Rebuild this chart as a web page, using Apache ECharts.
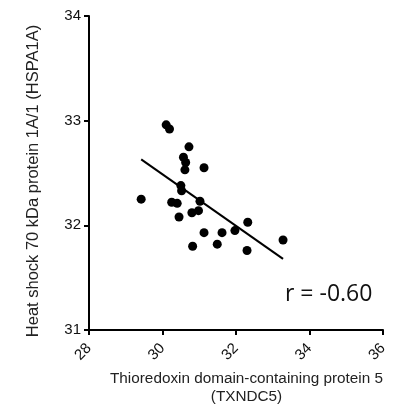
<!DOCTYPE html>
<html>
<head>
<meta charset="utf-8">
<script src="https://cdn.jsdelivr.net/npm/echarts@6/dist/echarts.min.js"></script>
<style>
    html, body { margin: 0; padding: 0; background: #fff; }
    #chart { width: 395px; height: 405px; }
</style>
</head>
<body>
<div id="chart"></div>
<script>
// TXNDC5 (x) vs HSPA1A (y)
var txndc5 = [29.42, 30.10, 30.19, 30.72, 30.57, 30.63, 30.61, 31.13, 30.50, 30.52, 30.25, 30.40,
    31.02, 30.80, 30.98, 30.45, 31.13, 31.62, 31.97, 32.32, 30.82, 31.49, 32.30, 33.28];
var hspa1a = [32.25, 32.96, 32.92, 32.75, 32.65, 32.60, 32.53, 32.55, 32.38, 32.33, 32.22, 32.21,
    32.23, 32.12, 32.14, 32.08, 31.93, 31.93, 31.95, 32.03, 31.80, 31.82, 31.76, 31.86];

// fitted line end points
var fitX = [29.42, 33.28];
var fitY = [32.63, 31.68];

var xTicks = [28, 30, 32, 34, 36];
var yTicks = [31, 32, 33, 34];

var points = [];
for (var i = 0; i < txndc5.length; i++) {
    points.push([txndc5[i], hspa1a[i]]);
}
var fitLine = [];
for (var j = 0; j < fitX.length; j++) {
    fitLine.push([fitX[j], fitY[j]]);
}

var chart = echarts.init(document.getElementById('chart'));

var axisFont = 'Liberation Sans, Arial, sans-serif';

var option = {
    animation: false,
    backgroundColor: '#fff',
    grid: {
        left: 89,
        top: 16,
        right: 12,
        bottom: 75,
        containLabel: false,
        outerBoundsMode: 'none'
    },
    xAxis: {
        type: 'value',
        min: xTicks[0],
        max: xTicks[xTicks.length - 1],
        interval: 2,
        name: 'Thioredoxin domain-containing protein 5\n(TXNDC5)',
        nameLocation: 'middle',
        nameGap: 39,
        nameTextStyle: {
            color: '#222',
            fontSize: 15.3,
            fontFamily: axisFont,
            lineHeight: 18,
            verticalAlign: 'top',
            padding: [0, 0, 0, 21]
        },
        axisLine: { onZero: false, lineStyle: { color: '#000', width: 2 } },
        axisTick: { length: 5, lineStyle: { color: '#000', width: 2 } },
        axisLabel: {
            rotate: 45,
            margin: 16,
            color: '#111',
            fontSize: 15,
            fontFamily: axisFont
        },
        splitLine: { show: false }
    },
    yAxis: {
        type: 'value',
        min: yTicks[0],
        max: yTicks[yTicks.length - 1],
        interval: 1,
        name: 'Heat shock 70 kDa protein 1A/1 (HSPA1A)',
        nameLocation: 'middle',
        nameGap: 47,
        nameTextStyle: {
            color: '#222',
            fontSize: 16.5,
            fontFamily: axisFont,
            padding: [0, 16, 0, 0]
        },
        axisLine: { onZero: false, lineStyle: { color: '#000', width: 2 } },
        axisTick: { length: 5, lineStyle: { color: '#000', width: 2 } },
        axisLabel: {
            margin: 8,
            color: '#111',
            fontSize: 15,
            fontFamily: axisFont
        },
        splitLine: { show: false }
    },
    series: [{
        type: 'scatter',
        data: points,
        symbol: 'circle',
        symbolSize: 9,
        itemStyle: { color: '#000', opacity: 1 }
    }, {
        type: 'line',
        data: fitLine,
        symbol: 'none',
        lineStyle: { color: '#000', width: 2 }
    }],
    graphic: [{
        type: 'text',
        left: 285,
        top: 283,
        style: {
            text: 'r = -0.60',
            fill: '#111',
            fontSize: 23,
            fontFamily: 'Open Sans, sans-serif'
        }
    }]
};

chart.setOption(option);

window.onresize = function () {
    chart.resize();
}
</script>
</body>
</html>
